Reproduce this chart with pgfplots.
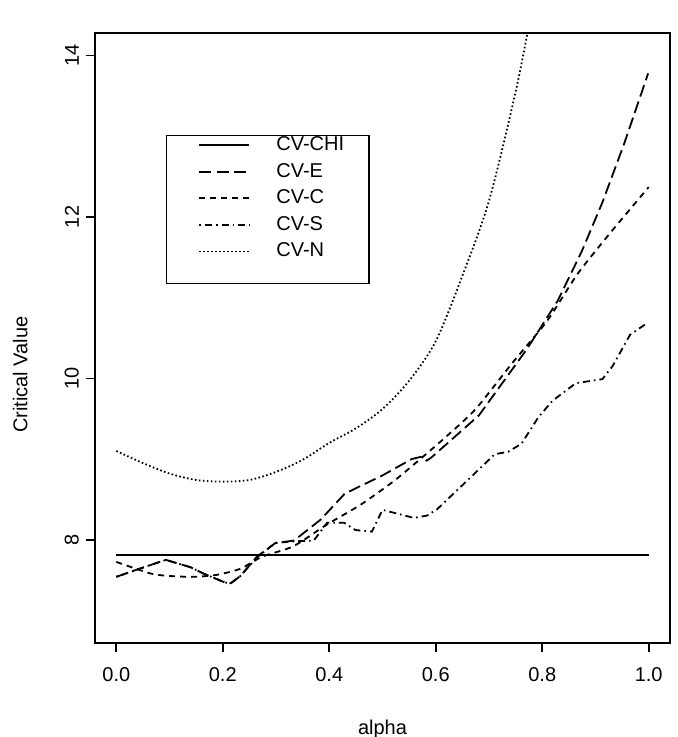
\documentclass[border=0pt]{standalone}
\usepackage{pgfplots}
\pgfplotsset{compat=1.18}
\usepackage{fontspec}
\setmainfont{Liberation Sans}
\begin{document}
\begin{tikzpicture}
\begin{axis}[
  scale only axis, width=287.5pt, height=305pt,
  xmin=-0.04, xmax=1.04, ymin=6.72, ymax=14.28,
  xtick={0,0.2,0.4,0.6,0.8,1.0},
  xticklabels={0.0,0.2,0.4,0.6,0.8,1.0},
  ytick={8,10,12,14},
  tick pos=left, tick align=outside, major tick length=4.5pt,
  axis line style={line width=0.8pt},
  every tick/.style={line width=0.8pt, black},
  /pgf/number format/assume math mode=true,
  ticklabel style={font=\fontsize{10}{12}\selectfont},
  xticklabel style={yshift=-4pt},
  yticklabel style={rotate=90, anchor=south},
  xlabel={alpha}, ylabel={Critical Value},
  label style={font=\fontsize{10}{12}\selectfont},
  xlabel style={at={(axis description cs:0.5,-0.141)}, anchor=center},
  ylabel style={at={(axis description cs:-0.130,0.44)}, anchor=center},
  legend cell align=left,
  legend image code/.code={\path (0pt,0pt); \draw[#1] (5.5pt,0pt) -- (30.5pt,0pt);},
  legend style={at={(axis description cs:0.123,0.833)}, anchor=north west,
    draw=black, line width=0.8pt, font=\fontsize{10}{12}\selectfont,
    inner xsep=10.5pt, inner ysep=0pt, row sep=3.8pt,
    nodes={inner ysep=0.5pt},
    /tikz/every odd column/.append style={column sep=11pt}},
]
\addplot[black, line width=0.9pt] coordinates {(0,7.815) (1,7.815)};
\addlegendentry{CV-CHI}
\addplot[black, line width=0.9pt, dash pattern=on 6pt off 2.6pt] coordinates {
(0,7.54) (0.039,7.63) (0.093,7.75) (0.139,7.66) (0.164,7.58) (0.204,7.47)
(0.215,7.46) (0.233,7.55) (0.264,7.79) (0.299,7.96) (0.334,7.99) (0.384,8.25)
(0.429,8.57) (0.46,8.67) (0.498,8.79) (0.555,9.0) (0.574,9.03) (0.583,8.98)
(0.592,9.02) (0.681,9.54) (0.771,10.36) (0.829,10.96) (0.874,11.57)
(0.913,12.18) (0.954,12.91) (0.999,13.78)};
\addlegendentry{CV-E}
\addplot[black, line width=0.9pt, dash pattern=on 3pt off 2.5pt, smooth, tension=0.4] coordinates {
(0,7.725) (0.065,7.58) (0.102,7.55) (0.146,7.54) (0.189,7.565) (0.233,7.64)
(0.274,7.79) (0.333,7.92) (0.396,8.19) (0.458,8.43) (0.52,8.72) (0.571,9.0)
(0.62,9.28) (0.675,9.62) (0.745,10.2) (0.809,10.71) (0.867,11.3) (0.93,11.82)
(1.0,12.37)};
\addlegendentry{CV-C}
\addplot[black, line width=0.9pt, dash pattern=on 0.8pt off 2pt on 3.5pt off 2pt] coordinates {
(0,7.54) (0.039,7.63) (0.093,7.75) (0.139,7.66) (0.164,7.58) (0.204,7.47)
(0.215,7.46) (0.233,7.55) (0.264,7.78) (0.299,7.96) (0.334,7.98) (0.371,7.99)
(0.396,8.21) (0.428,8.21) (0.449,8.12) (0.48,8.10) (0.50,8.37) (0.559,8.27)
(0.584,8.30) (0.603,8.38) (0.711,9.06) (0.736,9.09) (0.761,9.19) (0.793,9.52)
(0.819,9.72) (0.863,9.94) (0.913,9.99) (0.932,10.15) (0.965,10.54) (0.996,10.68)};
\addlegendentry{CV-S}
\addplot[black, line width=0.9pt, dash pattern=on 0.8pt off 1.2pt, smooth] coordinates {
(0,9.10) (0.05,8.95) (0.10,8.82) (0.15,8.74) (0.20,8.72) (0.25,8.74)
(0.30,8.84) (0.35,8.99) (0.40,9.20) (0.45,9.38) (0.50,9.62) (0.55,9.97)
(0.60,10.46) (0.65,11.27) (0.70,12.2) (0.75,13.55) (0.78,14.55) (0.80,15.3)};
\addlegendentry{CV-N}
\addlegendimage{empty legend}
\addlegendentry{\rule{0pt}{5pt}}
\end{axis}
\pgfresetboundingbox
\path (-47.5pt,-47pt) rectangle (291.5pt,321.5pt);
\end{tikzpicture}
\end{document}
